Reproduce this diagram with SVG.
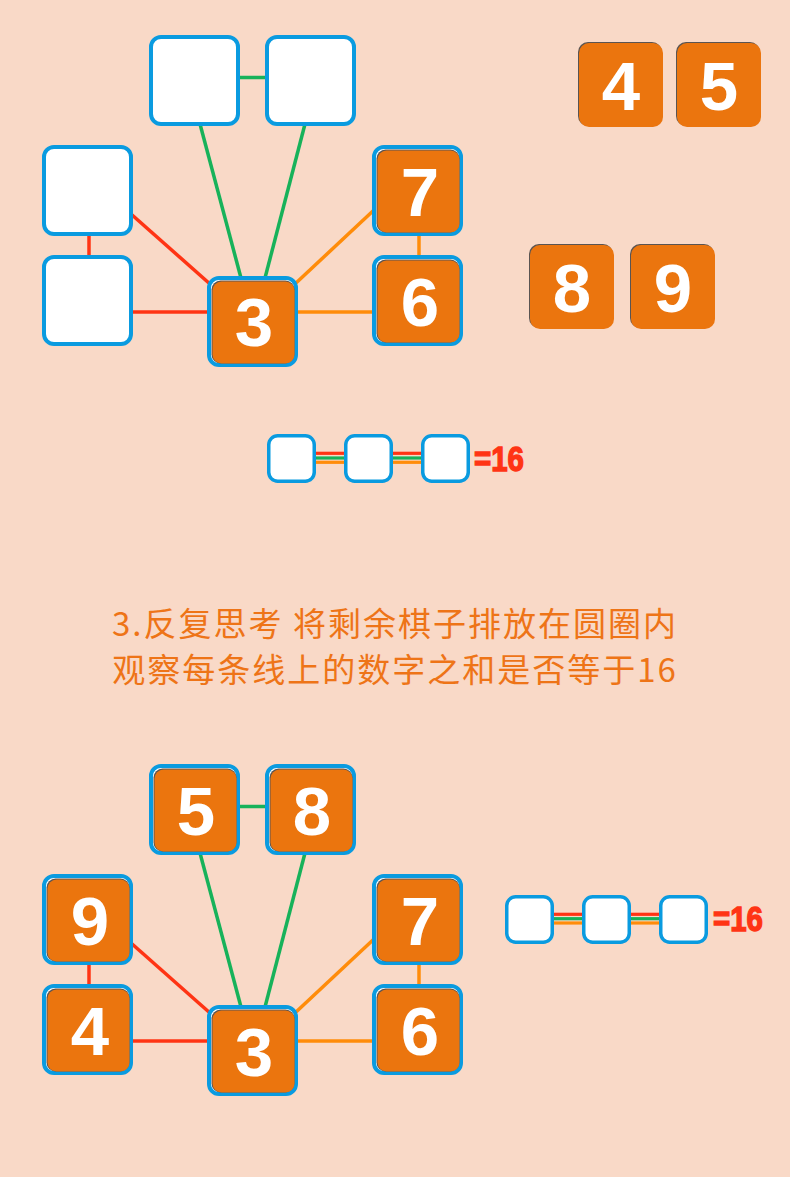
<svg xmlns="http://www.w3.org/2000/svg" xmlns:xlink="http://www.w3.org/1999/xlink" width="790" height="1177" viewBox="0 0 790 1177">
<defs>
<style>
.frame{fill:#ffffff;stroke:#0A9BE0;stroke-width:4}
.sframe{fill:#ffffff;stroke:#0A9BE0;stroke-width:3.5}
.shadow{fill:#5a5452}
.tile{fill:#EB750E}
.digit{fill:#ffffff;font-family:"Liberation Sans",Arial,sans-serif;font-weight:bold;font-size:69px;text-anchor:middle}
.red{stroke:#FF3414;stroke-width:3.5;fill:none}
.green{stroke:#17B25A;stroke-width:3.5;fill:none}
.orange{stroke:#FF8C0A;stroke-width:3.5;fill:none}
.thin{stroke-width:3.2}
.eq{fill:#FF3414;stroke:#FF3414;stroke-width:1.4;font-family:"Liberation Sans",Arial,sans-serif;font-weight:bold;font-size:35px}
.cap{fill:#EE7417;font-family:"Noto Sans CJK SC","Noto Sans",sans-serif;font-size:33px;letter-spacing:2px;text-anchor:middle}
</style>
</defs>
<rect x="0" y="0" width="790" height="1177" fill="#F9D9C7"/>

<!-- ===== Top diagram connectors ===== -->
<g id="connectors-top">
<line class="green" x1="238" y1="77.5" x2="267" y2="77.5"/>
<line class="green" x1="200" y1="124" x2="241" y2="278"/>
<line class="green" x1="305" y1="124" x2="265" y2="278"/>
<line class="red" x1="89" y1="234" x2="89" y2="257"/>
<line class="red" x1="131" y1="214" x2="210" y2="284"/>
<line class="red" x1="131" y1="312" x2="209" y2="312"/>
<line class="orange" x1="374" y1="210" x2="296" y2="283"/>
<line class="orange" x1="419" y1="234" x2="419" y2="257"/>
<line class="orange" x1="296" y1="312" x2="374" y2="312"/>
</g>

<!-- ===== Top diagram nodes ===== -->
<g id="top-tl"><rect class="frame" x="151" y="37" width="87" height="87" rx="10"/></g>
<g id="top-tr"><rect class="frame" x="267" y="37" width="87" height="87" rx="10"/></g>
<g id="top-lu"><rect class="frame" x="44" y="147" width="87" height="87" rx="10"/></g>
<g id="top-ll"><rect class="frame" x="44" y="257" width="87" height="87" rx="10"/></g>
<g id="top-c3"><rect class="frame" x="209" y="278" width="87" height="87" rx="10"/>
<rect class="shadow" x="211.5" y="280.5" width="83" height="83" rx="9"/>
<rect class="tile" x="212.5" y="281.5" width="82" height="82" rx="9"/>
<text class="digit" x="254" y="346">3</text></g>
<g id="top-r7"><rect class="frame" x="374" y="147" width="87" height="87" rx="10"/>
<rect class="shadow" x="376.5" y="149.5" width="83" height="83" rx="9"/>
<rect class="tile" x="377.5" y="150.5" width="82" height="82" rx="9"/>
<text class="digit" x="420" y="216">7</text></g>
<g id="top-r6"><rect class="frame" x="374" y="257" width="87" height="87" rx="10"/>
<rect class="shadow" x="376.5" y="259.5" width="83" height="83" rx="9"/>
<rect class="tile" x="377.5" y="260.5" width="82" height="82" rx="9"/>
<text class="digit" x="420" y="326">6</text></g>

<!-- ===== Loose tiles ===== -->
<g id="loose-4"><rect class="shadow" x="578" y="42" width="84" height="84" rx="10"/>
<rect class="tile" x="579" y="43" width="84" height="84" rx="10"/>
<text class="digit" x="621" y="110">4</text></g>
<g id="loose-5"><rect class="shadow" x="676" y="42" width="84" height="84" rx="10"/>
<rect class="tile" x="677" y="43" width="84" height="84" rx="10"/>
<text class="digit" x="719" y="110">5</text></g>
<g id="loose-8"><rect class="shadow" x="529" y="244" width="84" height="84" rx="10"/>
<rect class="tile" x="530" y="245" width="84" height="84" rx="10"/>
<text class="digit" x="572" y="312">8</text></g>
<g id="loose-9"><rect class="shadow" x="630" y="244" width="84" height="84" rx="10"/>
<rect class="tile" x="631" y="245" width="84" height="84" rx="10"/>
<text class="digit" x="673" y="312">9</text></g>

<!-- ===== Chain 1 ===== -->
<g id="chain1-lines">
<line class="red thin" x1="314" y1="453.3" x2="346" y2="453.3"/>
<line class="green thin" x1="314" y1="458" x2="346" y2="458"/>
<line class="orange thin" x1="314" y1="462.3" x2="346" y2="462.3"/>
<line class="red thin" x1="391" y1="453.3" x2="423" y2="453.3"/>
<line class="green thin" x1="391" y1="458" x2="423" y2="458"/>
<line class="orange thin" x1="391" y1="462.3" x2="423" y2="462.3"/>
</g>
<g id="chain1-a"><rect class="sframe" x="268.75" y="435.75" width="45.5" height="45.5" rx="9"/></g>
<g id="chain1-b"><rect class="sframe" x="345.75" y="435.75" width="45.5" height="45.5" rx="9"/></g>
<g id="chain1-c"><rect class="sframe" x="422.75" y="435.75" width="45.5" height="45.5" rx="9"/></g>
<text class="eq" x="474" y="471" textLength="50" lengthAdjust="spacingAndGlyphs">=16</text>

<!-- ===== Caption ===== -->
<text class="cap" x="395" y="636">3.反复思考 将剩余棋子排放在圆圈内</text>
<text class="cap" x="395" y="682">观察每条线上的数字之和是否等于16</text>

<!-- ===== Bottom diagram connectors ===== -->
<g id="connectors-bottom" transform="translate(0,729)">
<line class="green" x1="238" y1="77.5" x2="267" y2="77.5"/>
<line class="green" x1="200" y1="124" x2="241" y2="278"/>
<line class="green" x1="305" y1="124" x2="265" y2="278"/>
<line class="red" x1="89" y1="234" x2="89" y2="257"/>
<line class="red" x1="131" y1="214" x2="210" y2="284"/>
<line class="red" x1="131" y1="312" x2="209" y2="312"/>
<line class="orange" x1="374" y1="210" x2="296" y2="283"/>
<line class="orange" x1="419" y1="234" x2="419" y2="257"/>
<line class="orange" x1="296" y1="312" x2="374" y2="312"/>
</g>

<!-- ===== Bottom diagram nodes ===== -->
<g id="bot-5"><rect class="frame" x="151" y="766" width="87" height="87" rx="10"/>
<rect class="shadow" x="153.5" y="768.5" width="83" height="83" rx="9"/>
<rect class="tile" x="154.5" y="769.5" width="82" height="82" rx="9"/>
<text class="digit" x="196" y="835">5</text></g>
<g id="bot-8"><rect class="frame" x="267" y="766" width="87" height="87" rx="10"/>
<rect class="shadow" x="269.5" y="768.5" width="83" height="83" rx="9"/>
<rect class="tile" x="270.5" y="769.5" width="82" height="82" rx="9"/>
<text class="digit" x="312" y="835">8</text></g>
<g id="bot-9"><rect class="frame" x="44" y="876" width="87" height="87" rx="10"/>
<rect class="shadow" x="46.5" y="878.5" width="83" height="83" rx="9"/>
<rect class="tile" x="47.5" y="879.5" width="82" height="82" rx="9"/>
<text class="digit" x="90" y="945">9</text></g>
<g id="bot-4"><rect class="frame" x="44" y="986" width="87" height="87" rx="10"/>
<rect class="shadow" x="46.5" y="988.5" width="83" height="83" rx="9"/>
<rect class="tile" x="47.5" y="989.5" width="82" height="82" rx="9"/>
<text class="digit" x="90" y="1055">4</text></g>
<g id="bot-3"><rect class="frame" x="209" y="1007" width="87" height="87" rx="10"/>
<rect class="shadow" x="211.5" y="1009.5" width="83" height="83" rx="9"/>
<rect class="tile" x="212.5" y="1010.5" width="82" height="82" rx="9"/>
<text class="digit" x="254" y="1076">3</text></g>
<g id="bot-7"><rect class="frame" x="374" y="876" width="87" height="87" rx="10"/>
<rect class="shadow" x="376.5" y="878.5" width="83" height="83" rx="9"/>
<rect class="tile" x="377.5" y="879.5" width="82" height="82" rx="9"/>
<text class="digit" x="420" y="945">7</text></g>
<g id="bot-6"><rect class="frame" x="374" y="986" width="87" height="87" rx="10"/>
<rect class="shadow" x="376.5" y="988.5" width="83" height="83" rx="9"/>
<rect class="tile" x="377.5" y="989.5" width="82" height="82" rx="9"/>
<text class="digit" x="420" y="1055">6</text></g>

<!-- ===== Chain 2 ===== -->
<g id="chain2-lines">
<line class="red thin" x1="552" y1="914.3" x2="584" y2="914.3"/>
<line class="green thin" x1="552" y1="918.7" x2="584" y2="918.7"/>
<line class="orange thin" x1="552" y1="923" x2="584" y2="923"/>
<line class="red thin" x1="630" y1="914.3" x2="661" y2="914.3"/>
<line class="green thin" x1="630" y1="918.7" x2="661" y2="918.7"/>
<line class="orange thin" x1="630" y1="923" x2="661" y2="923"/>
</g>
<g id="chain2-a"><rect class="sframe" x="506.75" y="896.75" width="45.5" height="45.5" rx="9"/></g>
<g id="chain2-b"><rect class="sframe" x="583.75" y="896.75" width="45.5" height="45.5" rx="9"/></g>
<g id="chain2-c"><rect class="sframe" x="660.75" y="896.75" width="45.5" height="45.5" rx="9"/></g>
<text class="eq" x="713" y="931" textLength="50" lengthAdjust="spacingAndGlyphs">=16</text>
</svg>
